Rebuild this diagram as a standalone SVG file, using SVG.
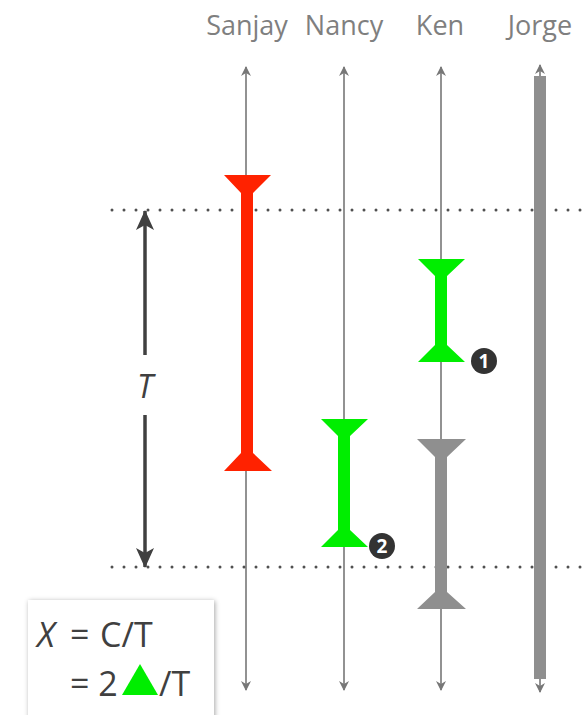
<svg xmlns="http://www.w3.org/2000/svg" width="588" height="715" viewBox="0 0 588 715">
<style>
.hdr{font-family:"Open Sans","Liberation Sans",sans-serif;font-size:27px;fill:#7f7f7f;text-anchor:middle}
.life{stroke:#777;stroke-width:1.6;fill:none}
.dots{stroke:#505050;stroke-width:3;stroke-linecap:round;stroke-dasharray:0 12;fill:none}
.tarr{stroke:#404040;stroke-width:3.5;fill:none}
.eq{font-family:"Open Sans","Liberation Sans",sans-serif;font-size:34px;fill:#404040}
.num{font-family:"Open Sans","Liberation Sans",sans-serif;font-size:19px;font-weight:bold;fill:#fff;text-anchor:middle}
</style>
<defs>
<marker id="ah" viewBox="0 0 10 10" refX="9" refY="5" markerWidth="10" markerHeight="10" markerUnits="userSpaceOnUse" orient="auto">
<path d="M0,0 L10,5 L0,10 L3,5 Z" fill="#777"/>
</marker>
<marker id="bh" viewBox="0 0 20 18" refX="19" refY="9" markerWidth="20" markerHeight="18" markerUnits="userSpaceOnUse" orient="auto">
<path d="M0,0 L20,9 L0,18 L5,9 Z" fill="#404040"/>
</marker>
<filter id="sh" x="-20%" y="-20%" width="140%" height="140%">
<feDropShadow dx="1" dy="1" stdDeviation="2.5" flood-color="#000" flood-opacity="0.35"/>
</filter>
</defs>

<g id="headers">
<text class="hdr" x="247" y="35">Sanjay</text>
<text class="hdr" x="344" y="35">Nancy</text>
<text class="hdr" x="440" y="35">Ken</text>
<text class="hdr" x="540" y="35">Jorge</text>
</g>

<g id="connectors">
<line class="life" x1="246" y1="330" x2="246" y2="67" marker-end="url(#ah)"/>
<line class="life" x1="246" y1="330" x2="246" y2="690" marker-end="url(#ah)"/>
<line class="life" x1="344" y1="330" x2="344" y2="67" marker-end="url(#ah)"/>
<line class="life" x1="344" y1="330" x2="344" y2="690" marker-end="url(#ah)"/>
<line class="life" x1="441" y1="330" x2="441" y2="67" marker-end="url(#ah)"/>
<line class="life" x1="441" y1="330" x2="441" y2="690" marker-end="url(#ah)"/>
<line class="life" x1="540" y1="330" x2="540" y2="65" marker-end="url(#ah)"/>
<line class="life" x1="540" y1="330" x2="540" y2="692" marker-end="url(#ah)"/>
<line class="dots" x1="112" y1="210" x2="588" y2="210"/>
<line class="dots" x1="112" y1="567" x2="588" y2="567"/>
<line class="tarr" x1="145" y1="355" x2="145" y2="211" marker-end="url(#bh)"/>
<line class="tarr" x1="145" y1="415" x2="145" y2="567" marker-end="url(#bh)"/>
</g>

<g id="jorge-bar">
<rect x="534" y="76" width="12" height="603" fill="#8f8f8f"/>
</g>

<g id="sanjay-red">
<polygon points="224,175 271,175 253,193 253,453 272,471 224,471 241,453 241,193" fill="#ff2200"/>
</g>

<g id="ken-green">
<polygon points="418,259 465,259 447,276 447,345 465,362 418,362 435,345 435,276" fill="#00ee00"/>
</g>

<g id="nancy-green">
<polygon points="321,419 368,419 350,436 350,530 368,547 321,547 338,530 338,436" fill="#00ee00"/>
</g>

<g id="ken-grey">
<polygon points="417,439 466,439 447,457 447,592 466,609 417,609 435,592 435,457" fill="#8f8f8f"/>
</g>

<g id="badge1">
<circle cx="484" cy="361" r="13" fill="#333"/>
<text class="num" x="484" y="368">1</text>
</g>

<g id="badge2">
<circle cx="382" cy="546" r="13" fill="#333"/>
<text class="num" x="382" y="553">2</text>
</g>

<g id="t-label">
<text x="145" y="398" font-family="Open Sans, Liberation Sans, sans-serif" font-size="32" font-style="italic" fill="#404040" text-anchor="middle">T</text>
</g>

<g id="legend">
<rect x="28" y="600" width="186" height="125" fill="#fff" filter="url(#sh)"/>
<text class="eq" x="37" y="647" font-style="italic">X</text>
<text class="eq" x="70" y="647">=</text>
<text class="eq" x="100" y="647">C/T</text>
<text class="eq" x="70" y="696">= 2</text>
<polygon points="140,664 158,695 122,695" fill="#00ee00"/>
<text class="eq" x="159" y="696">/T</text>
</g>
</svg>
